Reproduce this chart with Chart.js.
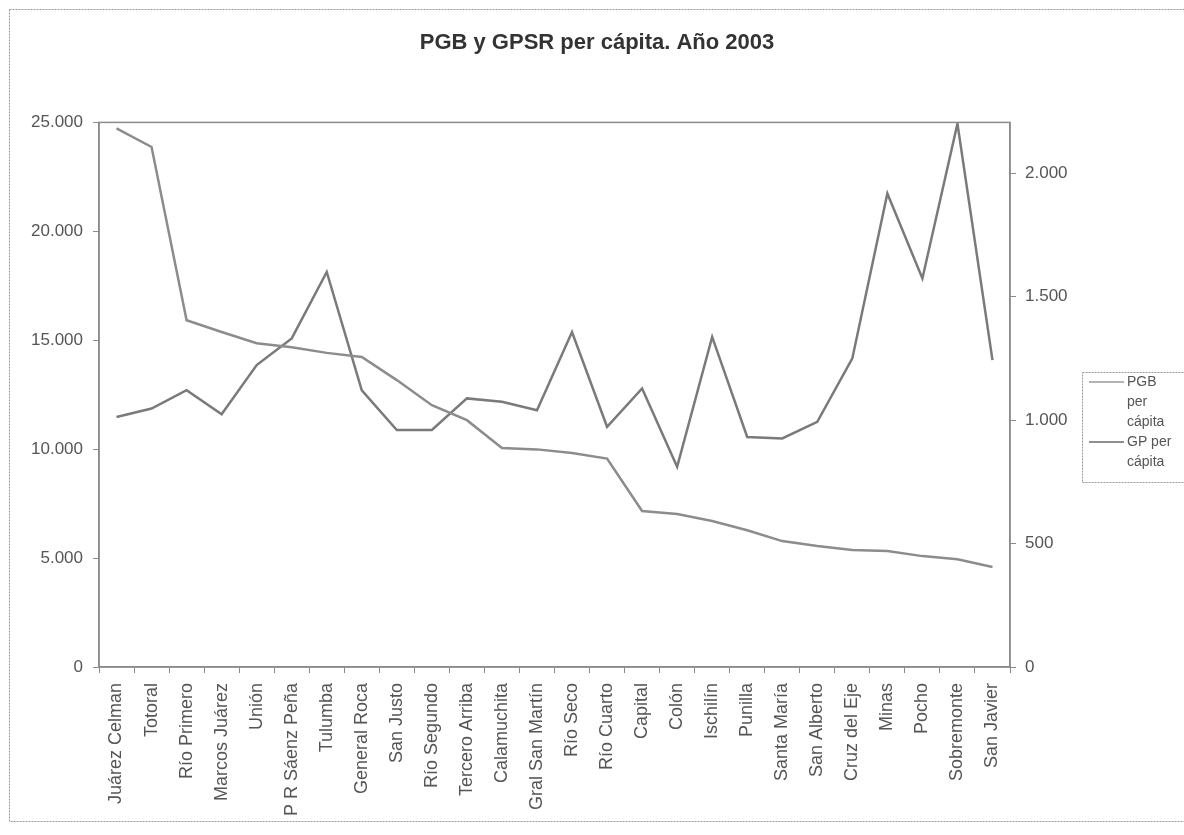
<!DOCTYPE html>
<html>
<head>
<meta charset="utf-8">
<title>PGB y GPSR per cápita. Año 2003</title>
<script src="https://cdn.jsdelivr.net/npm/chart.js@4.4.0/dist/chart.umd.min.js"></script>
<style>
    body { margin: 0; background: #ffffff; }
    #wrap { width: 1184px; height: 835px; }
</style>
</head>
<body>
<div id="wrap"><canvas id="myChart" width="1184" height="835"></canvas></div>
<script>
// Departments (categories)
var departamentos = ['Juárez Celman', 'Totoral', 'Río Primero', 'Marcos Juárez', 'Unión', 'P R Sáenz Peña', 'Tulumba',
    'General Roca', 'San Justo', 'Río Segundo', 'Tercero Arriba', 'Calamuchita', 'Gral San Martín', 'Río Seco',
    'Río Cuarto', 'Capital', 'Colón', 'Ischilín', 'Punilla', 'Santa María', 'San Alberto', 'Cruz del Eje',
    'Minas', 'Pocho', 'Sobremonte', 'San Javier'];

// PGB per cápita (left axis)
var pgb = [24725, 23870, 15920, 15380, 14860, 14680, 14420, 14230, 13170, 12020, 11330, 10050, 9990, 9820,
    9570, 7160, 7020, 6700, 6280, 5780, 5550, 5370, 5320, 5090, 4950, 4590];

// GP per cápita (right axis)
var gp = [1013, 1047, 1121, 1024, 1223, 1331, 1600, 1121, 960, 960, 1088, 1074, 1040, 1357,
    973, 1128, 811, 1337, 932, 926, 993, 1250, 1918, 1574, 2201, 1243];

// Tick values
var leftTicks = [0, 5000, 10000, 15000, 20000, 25000];
var rightTicks = [0, 500, 1000, 1500, 2000];

var legendLines = [['PGB', 'per', 'cápita'], ['GP per', 'cápita']];

// Format numbers like 25.000
function fmt(v) {
    return String(v).replace(/\B(?=(\d{3})+(?!\d))/g, '.');
}

Chart.defaults.font.family = '"Liberation Sans", Arial, sans-serif';
Chart.defaults.color = '#555555';

// Frame around the whole chart, the plot box and the legend
var frames = {
    id: 'frames',
    beforeDraw: function(chart) {
        var c = chart.ctx;
        c.save();
        c.fillStyle = '#ffffff';
        c.fillRect(0, 0, chart.width, chart.height);
        c.strokeStyle = '#999999';
        c.lineWidth = 1;
        c.setLineDash([2, 1]);
        c.strokeRect(9.5, 9.5, 1190, 812);
        c.restore();
    },
    afterDraw: function(chart) {
        var c = chart.ctx;
        var a = chart.chartArea;
        c.save();
        c.strokeStyle = '#8a8a8a';
        c.lineWidth = 1.5;
        c.strokeRect(a.left, a.top, a.right - a.left, a.bottom - a.top);

        // legend
        c.lineWidth = 1;
        c.setLineDash([2, 1]);
        c.strokeStyle = '#999999';
        c.strokeRect(1082.5, 372.5, 120, 110);
        c.setLineDash([]);
        c.font = '14px "Liberation Sans", Arial, sans-serif';
        c.fillStyle = '#555555';
        c.textBaseline = 'middle';
        var y = 382;
        for (var i = 0; i < legendLines.length; i++) {
            c.strokeStyle = i === 0 ? '#9a9a9a' : '#6a6a6a';
            c.lineWidth = 1.5;
            c.beginPath();
            c.moveTo(1089, y);
            c.lineTo(1124, y);
            c.stroke();
            for (var j = 0; j < legendLines[i].length; j++) {
                c.fillText(legendLines[i][j], 1127, y);
                y += 20;
            }
        }
        c.restore();
    }
};

var ctx = document.getElementById('myChart').getContext('2d');
var myChart = new Chart(ctx, {
    type: 'line',
    data: {
        labels: departamentos,
        datasets: [{
            label: 'PGB per cápita',
            data: pgb,
            yAxisID: 'y',
            borderColor: '#8c8c8c',
            borderWidth: 2.5,
            pointRadius: 0,
            tension: 0
        }, {
            label: 'GP per cápita',
            data: gp,
            yAxisID: 'y1',
            borderColor: '#7a7a7a',
            borderWidth: 2.5,
            pointRadius: 0,
            tension: 0
        }]
    },
    options: {
        responsive: false,
        animation: false,
        layout: { padding: { left: 10, right: 0, top: 0, bottom: 0 } },
        plugins: {
            legend: { display: false },
            tooltip: { enabled: false },
            title: {
                display: true,
                text: 'PGB y GPSR per cápita. Año 2003',
                color: '#333333',
                font: { size: 22, weight: 'bold' },
                padding: { top: 30, bottom: 66 }
            }
        },
        scales: {
            x: {
                offset: true,
                grid: { display: true, drawOnChartArea: false, offset: true, tickLength: 6, color: '#8a8a8a' },
                border: { display: true, color: '#8a8a8a', width: 1.5 },
                ticks: { maxRotation: 90, minRotation: 90, autoSkip: false, padding: 10, font: { size: 18 } },
                afterFit: function(scale) { scale.height = 168; }
            },
            y: {
                position: 'left',
                min: 0,
                max: 25000,
                grid: { display: true, drawOnChartArea: false, tickLength: 6, color: '#8a8a8a' },
                border: { display: true, color: '#8a8a8a', width: 1.5 },
                afterBuildTicks: function(scale) {
                    scale.ticks = leftTicks.map(function(v) { return { value: v }; });
                },
                ticks: { padding: 10, font: { size: 17 }, callback: function(v) { return fmt(v); } },
                afterFit: function(scale) { scale.width = 89; }
            },
            y1: {
                position: 'right',
                min: 0,
                max: 2206,
                grid: { display: true, drawOnChartArea: false, tickLength: 6, color: '#8a8a8a' },
                border: { display: true, color: '#8a8a8a', width: 1.5 },
                afterBuildTicks: function(scale) {
                    scale.ticks = rightTicks.map(function(v) { return { value: v }; });
                },
                ticks: { padding: 9, font: { size: 17 }, callback: function(v) { return fmt(v); } },
                afterFit: function(scale) { scale.width = 174; }
            }
        }
    },
    plugins: [frames]
});
</script>
</body>
</html>
